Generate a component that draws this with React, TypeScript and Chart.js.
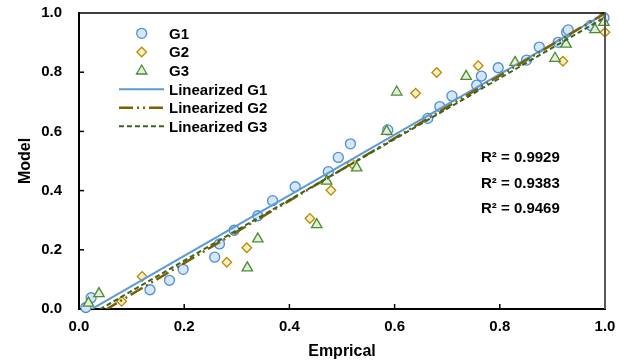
import React, { useEffect, useRef } from 'react';
import { Chart, registerables } from 'chart.js';

Chart.register(...registerables);

const seriesNames = ['G1', 'G2', 'G3'];

const g1X = [0.013, 0.023, 0.135, 0.172, 0.198, 0.258, 0.267, 0.295, 0.34, 0.368, 0.411, 0.474, 0.493, 0.516, 0.587, 0.663, 0.686, 0.709, 0.756, 0.765, 0.797, 0.851, 0.875, 0.911, 0.927, 0.93, 0.973, 0.998];
const g1Y = [0.005, 0.038, 0.065, 0.097, 0.134, 0.175, 0.22, 0.266, 0.315, 0.366, 0.413, 0.464, 0.512, 0.558, 0.605, 0.644, 0.684, 0.72, 0.756, 0.787, 0.815, 0.841, 0.885, 0.901, 0.935, 0.943, 0.958, 0.984];

const g2X = [0.081, 0.12, 0.281, 0.319, 0.439, 0.479, 0.519, 0.64, 0.68, 0.759, 0.92, 1.0];
const g2Y = [0.026, 0.11, 0.158, 0.207, 0.306, 0.401, 0.491, 0.729, 0.799, 0.822, 0.837, 0.935];

const g3X = [0.018, 0.038, 0.32, 0.34, 0.452, 0.471, 0.528, 0.585, 0.604, 0.736, 0.829, 0.905, 0.926, 0.981, 0.998];
const g3Y = [0.02, 0.052, 0.139, 0.237, 0.285, 0.432, 0.477, 0.6, 0.733, 0.786, 0.833, 0.847, 0.895, 0.944, 0.968];

// Linear trendlines: y = slope * x + intercept
const fitSlopes = [1.023, 1.055, 1.027];
const fitIntercepts = [-0.025, -0.056, -0.042];
const fitRange = [0, 1];
const rSquaredLabels = ['R² = 0.9929', 'R² = 0.9383', 'R² = 0.9469'];

const axisMin = 0;
const axisMax = 1;
const tickStep = 0.2;

const FONT = 'Arial, "Liberation Sans", sans-serif';

const markerStyles = ['circle', 'rectRot', 'triangle'];
const markerFill = ['#d6e6f6', '#fff0c4', '#e0efd6'];
const markerStroke = ['#4a8fd6', '#b88c08', '#4f8a35'];
const markerRadius = [5, 4.8, 6];
const lineColors = ['#5b9bd5', '#7f6000', '#3b6425'];
const lineWidths = [2, 2.5, 2];
const lineDashes: number[][] = [[], [14, 4, 2, 4, 2, 4], [5, 3]];

function toPoints(xs: number[], ys: number[]) {
  return xs.map((x, i) => ({ x, y: ys[i] }));
}

function fitPoints(i: number) {
  return fitRange.map((x) => ({ x, y: fitSlopes[i] * x + fitIntercepts[i] }));
}

function drawMarker(ctx: CanvasRenderingContext2D, style: string, x: number, y: number, r: number) {
  ctx.beginPath();
  if (style === 'circle') {
    ctx.arc(x, y, r, 0, Math.PI * 2);
  } else if (style === 'rectRot') {
    ctx.moveTo(x - r, y);
    ctx.lineTo(x, y - r);
    ctx.lineTo(x + r, y);
    ctx.lineTo(x, y + r);
    ctx.closePath();
  } else {
    for (let k = 0; k < 3; k++) {
      const a = (k * 2 * Math.PI) / 3;
      const px = x + Math.sin(a) * r;
      const py = y - Math.cos(a) * r;
      if (k === 0) ctx.moveTo(px, py);
      else ctx.lineTo(px, py);
    }
    ctx.closePath();
  }
  ctx.fill();
  ctx.stroke();
}

const decorPlugin = {
  id: 'decor',
  afterDraw(chart: any) {
    const { ctx, chartArea } = chart;
    const { left, right, top, bottom } = chartArea;
    const xs = chart.scales.x;
    const ys = chart.scales.y;
    ctx.save();
    // top and right frame
    ctx.strokeStyle = '#000';
    ctx.lineWidth = 1.5;
    ctx.beginPath();
    ctx.moveTo(left, top);
    ctx.lineTo(right, top);
    ctx.stroke();
    ctx.strokeStyle = '#595959';
    ctx.lineWidth = 2;
    ctx.beginPath();
    ctx.moveTo(right, top - 0.75);
    ctx.lineTo(right, bottom);
    ctx.stroke();
    // inward tick marks
    ctx.strokeStyle = '#000';
    ctx.lineWidth = 1.5;
    for (let v = axisMin + tickStep; v < axisMax - 1e-9; v += tickStep) {
      const px = xs.getPixelForValue(v);
      ctx.beginPath();
      ctx.moveTo(px, bottom);
      ctx.lineTo(px, bottom - 5);
      ctx.stroke();
      const py = ys.getPixelForValue(v);
      ctx.beginPath();
      ctx.moveTo(left, py);
      ctx.lineTo(left + 5, py);
      ctx.stroke();
    }
    // legend
    const fs = 15;
    ctx.font = `bold ${fs}px ${FONT}`;
    ctx.textAlign = 'left';
    ctx.textBaseline = 'alphabetic';
    const legendMarkerX = 141.7;
    const legendTextX = 169;
    const rowY = [33.3, 52, 71, 89.3, 107.8, 126.3];
    for (let i = 0; i < 3; i++) {
      ctx.fillStyle = markerFill[i];
      ctx.strokeStyle = markerStroke[i];
      ctx.lineWidth = 1.3;
      ctx.setLineDash([]);
      drawMarker(ctx, markerStyles[i], legendMarkerX, rowY[i], markerRadius[i]);
      ctx.fillStyle = '#000';
      ctx.fillText(seriesNames[i], legendTextX, rowY[i] + fs * 0.358);
    }
    for (let i = 0; i < 3; i++) {
      const y = rowY[3 + i];
      ctx.strokeStyle = lineColors[i];
      ctx.lineWidth = lineWidths[i];
      ctx.setLineDash(lineDashes[i]);
      ctx.beginPath();
      ctx.moveTo(119, y);
      ctx.lineTo(164, y);
      ctx.stroke();
      ctx.setLineDash([]);
      ctx.fillStyle = '#000';
      ctx.fillText('Linearized ' + seriesNames[i], legendTextX, y + fs * 0.358);
    }
    // R² labels
    const rY = [156.7, 182.7, 207.3];
    rSquaredLabels.forEach((t, i) => {
      ctx.fillText(t, 481, rY[i] + fs * 0.358);
    });
    ctx.restore();
  },
};

function clearScalePadding(s: any) {
  s.paddingTop = 0;
  s.paddingBottom = 0;
  s.paddingLeft = 0;
  s.paddingRight = 0;
}

export default function App() {
  const ref = useRef<HTMLCanvasElement | null>(null);
  useEffect(() => {
    if (!ref.current) return;
    const datasets: any[] = [];
    // trendlines (drawn on top): G3, G2, G1
    [2, 1, 0].forEach((i) => {
      datasets.push({
        type: 'line',
        label: 'Linearized ' + seriesNames[i],
        data: fitPoints(i),
        borderColor: lineColors[i],
        borderWidth: lineWidths[i],
        borderDash: lineDashes[i],
        pointRadius: 0,
        fill: false,
        showLine: true,
        clip: 0,
      });
    });
    const xsAll = [g1X, g2X, g3X];
    const ysAll = [g1Y, g2Y, g3Y];
    [2, 1, 0].forEach((i) => {
      datasets.push({
        type: 'scatter',
        label: seriesNames[i],
        data: toPoints(xsAll[i], ysAll[i]),
        pointStyle: markerStyles[i],
        pointRadius: markerRadius[i],
        pointBackgroundColor: markerFill[i],
        pointBorderColor: markerStroke[i],
        pointBorderWidth: 1.3,
        showLine: false,
        clip: false,
      });
    });
    const tickFont = { family: FONT, size: 15, weight: 'bold' as const };
    const chart = new Chart(ref.current, {
      type: 'scatter',
      data: { datasets },
      options: {
        animation: false,
        responsive: false,
        events: [],
        layout: { padding: { top: 13, right: 14, left: 0, bottom: 0 } },
        plugins: { legend: { display: false }, tooltip: { enabled: false } },
        scales: {
          x: {
            type: 'linear',
            min: axisMin,
            max: axisMax,
            grid: { display: false, drawTicks: false },
            border: { display: true, color: '#000', width: 2 },
            ticks: {
              stepSize: tickStep,
              padding: 9,
              color: '#000',
              font: tickFont,
              callback: (v: any) => Number(v).toFixed(1),
            },
            title: {
              display: true,
              text: 'Emprical',
              color: '#000',
              font: { family: FONT, size: 16, weight: 'bold' },
              padding: { top: 0, bottom: 0 },
            },
            afterFit: (s: any) => {
              s.height = 52;
              clearScalePadding(s);
            },
          },
          y: {
            type: 'linear',
            min: axisMin,
            max: axisMax,
            grid: { display: false, drawTicks: false },
            border: { display: true, color: '#000', width: 2 },
            ticks: {
              stepSize: tickStep,
              padding: 17,
              color: '#000',
              font: tickFont,
              callback: (v: any) => Number(v).toFixed(1),
            },
            title: {
              display: true,
              text: 'Model',
              color: '#000',
              font: { family: FONT, size: 16, weight: 'bold' },
              padding: { top: 16, bottom: 0 },
            },
            afterFit: (s: any) => {
              s.width = 79;
              clearScalePadding(s);
            },
          },
        },
      },
      plugins: [decorPlugin],
    });
    return () => chart.destroy();
  }, []);
  return (
    <div style={{ position: 'fixed', left: 0, top: 0, width: 619, height: 361, background: '#fff' }}>
      <canvas ref={ref} width={619} height={361} style={{ display: 'block' }} />
    </div>
  );
}
